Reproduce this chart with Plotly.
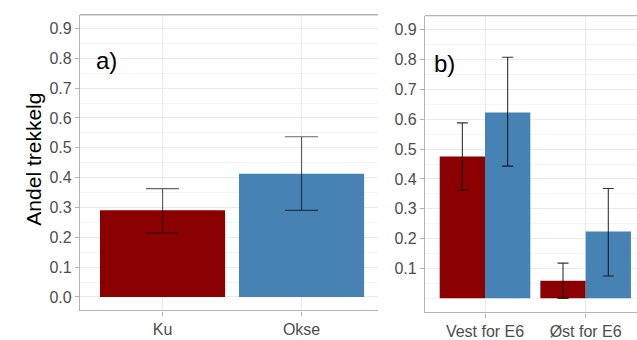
import plotly.graph_objects as go

# Panel a: share of draught moose by sex
sex_labels = ["Ku", "Okse"]
sex_share = [0.291, 0.413]
sex_upper = [0.363, 0.537]
sex_lower = [0.215, 0.290]

# Panel b: share by area (west / east of E6), split by sex
area_labels = ["Vest for E6", "Øst for E6"]
ku_share = [0.475, 0.059]
ku_upper = [0.588, 0.118]
ku_lower = [0.362, 0.000]
okse_share = [0.623, 0.224]
okse_upper = [0.808, 0.368]
okse_lower = [0.443, 0.075]

y_ticks_a = [0.0, 0.1, 0.2, 0.3, 0.4, 0.5, 0.6, 0.7, 0.8, 0.9]
y_ticks_b = [0.1, 0.2, 0.3, 0.4, 0.5, 0.6, 0.7, 0.8, 0.9]

RED = "#8B0000"
BLUE = "#4682B4"
BORDER = "#b3b3b3"
GRID = "#ebebeb"
GRID_MINOR = "#f5f5f5"
FAMILY = "Liberation Sans, Arial, sans-serif"
TICKFONT = dict(family=FAMILY, size=16, color="#4d4d4d")

W, H = 637, 340


def px_x(v):
    return v / W


def px_y(v):
    return 1 - v / H


def err(vals, up, lo):
    return [u - v for v, u in zip(vals, up)], [v - l for v, l in zip(vals, lo)]


fig = go.Figure()

ea_plus, ea_minus = err(sex_share, sex_upper, sex_lower)
fig.add_trace(go.Bar(
    x=sex_labels, y=sex_share, width=0.9,
    marker=dict(color=[RED, BLUE], line=dict(width=0)),
    error_y=dict(type="data", symmetric=False, array=ea_plus, arrayminus=ea_minus,
                 color="rgba(0,0,0,0.6)", thickness=1.2, width=16.5),
    xaxis="x", yaxis="y", showlegend=False,
))

ek_plus, ek_minus = err(ku_share, ku_upper, ku_lower)
eo_plus, eo_minus = err(okse_share, okse_upper, okse_lower)
fig.add_trace(go.Bar(
    x=area_labels, y=ku_share, width=0.45, offset=-0.45,
    marker=dict(color=RED, line=dict(width=0)),
    error_y=dict(type="data", symmetric=False, array=ek_plus, arrayminus=ek_minus,
                 color="rgba(0,0,0,0.8)", thickness=1.1, width=5.5),
    xaxis="x2", yaxis="y2", showlegend=False,
))
fig.add_trace(go.Bar(
    x=area_labels, y=okse_share, width=0.45, offset=0.0,
    marker=dict(color=BLUE, line=dict(width=0)),
    error_y=dict(type="data", symmetric=False, array=eo_plus, arrayminus=eo_minus,
                 color="rgba(0,0,0,0.8)", thickness=1.1, width=5.5),
    xaxis="x2", yaxis="y2", showlegend=False,
))

dom_a = [px_x(80), px_x(378)]
dom_b = [px_x(425), 1.0]
ydom_a = [px_y(316), px_y(15)]
ydom_b = [px_y(318), px_y(16)]

common_x = dict(type="category", showgrid=True, gridcolor=GRID, gridwidth=1,
                showline=True, linecolor=BORDER, linewidth=1.3,
                ticks="outside", ticklen=4, tickcolor=BORDER, tickfont=TICKFONT,
                zeroline=False, fixedrange=True)
common_y = dict(showgrid=True, gridcolor=GRID, gridwidth=1,
                showline=True, linecolor=BORDER, linewidth=1.3,
                ticks="outside", ticklen=4, tickcolor=BORDER, tickfont=TICKFONT,
                zeroline=False, tickformat=".1f",
                minor=dict(dtick=0.05, tick0=0, showgrid=True, gridcolor=GRID_MINOR, ticks=""))

fig.update_layout(
    width=W, height=H,
    margin=dict(l=0, r=0, t=0, b=0),
    paper_bgcolor="white", plot_bgcolor="white",
    xaxis=dict(common_x, domain=dom_a, range=[-0.594, 1.55], anchor="y"),
    yaxis=dict(common_y, domain=ydom_a, range=[-0.045, 0.946], anchor="x",
               tickvals=y_ticks_a),
    xaxis2=dict(common_x, domain=dom_b, range=[-0.596, 1.51], anchor="y2"),
    yaxis2=dict(common_y, domain=ydom_b, range=[-0.047, 0.947], anchor="x2",
                tickvals=y_ticks_b),
    font=dict(family=FAMILY),
    bargap=0.1,
)

# top border lines of both panels
fig.add_shape(type="line", xref="paper", yref="paper",
              x0=dom_a[0], x1=dom_a[1], y0=ydom_a[1], y1=ydom_a[1],
              line=dict(color=BORDER, width=1.3))
fig.add_shape(type="line", xref="paper", yref="paper",
              x0=dom_b[0], x1=dom_b[1], y0=ydom_b[1], y1=ydom_b[1],
              line=dict(color=BORDER, width=1.3))

fig.add_annotation(text="Andel trekkelg", textangle=-90, xref="paper", yref="paper",
                   x=px_x(20), y=px_y(162), showarrow=False,
                   font=dict(size=21, color="black", family=FAMILY))
fig.add_annotation(text="a)", xref="paper", yref="paper", x=px_x(94), y=px_y(62),
                   xanchor="left", yanchor="middle", showarrow=False,
                   font=dict(size=24, color="black", family=FAMILY))
fig.add_annotation(text="b)", xref="paper", yref="paper", x=px_x(432), y=px_y(65),
                   xanchor="left", yanchor="middle", showarrow=False,
                   font=dict(size=24, color="black", family=FAMILY))

fig.write_html("out.html")
